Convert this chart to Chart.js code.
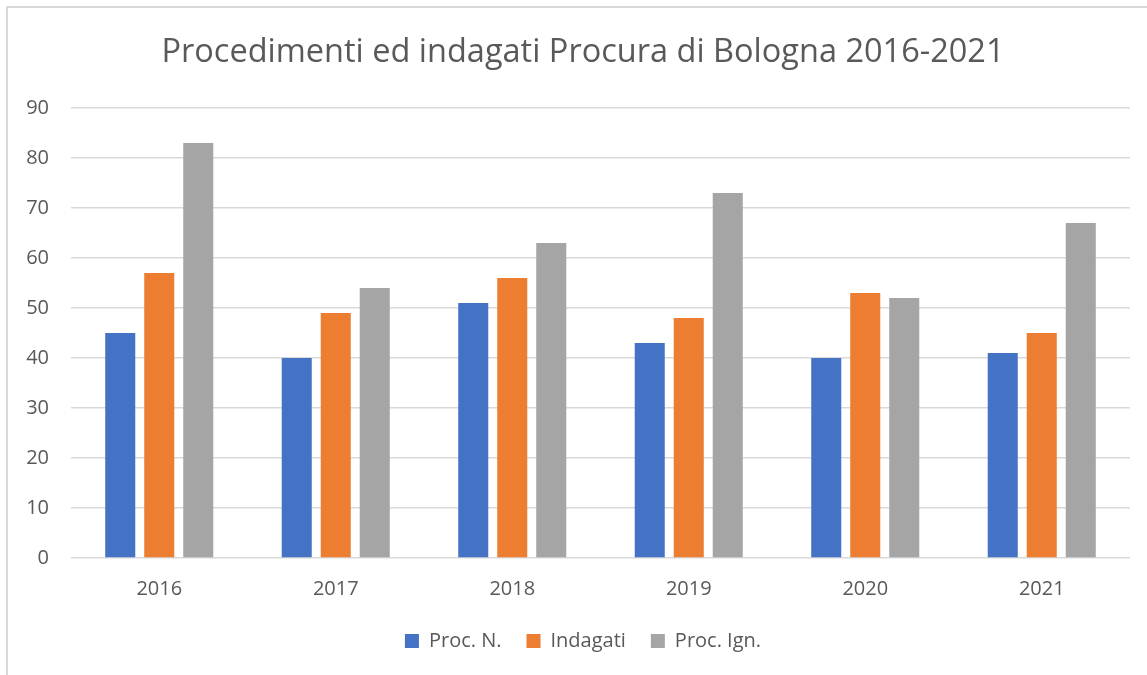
<!DOCTYPE html>
<html>
<head>
<meta charset="utf-8">
<script src="https://cdn.jsdelivr.net/npm/chart.js@4.4.0/dist/chart.umd.min.js"></script>
<style>
  html, body { margin:0; padding:0; background:#fff; overflow:hidden; }
  #frame { position:absolute; left:6px; top:6px; width:1200px; height:700px; border-left:2px solid #D9D9D9; border-top:2px solid #D9D9D9; }
  #wrap { position:absolute; left:0; top:0; width:1166px; height:675px; }
</style>
</head>
<body>
<div id="frame"></div>
<div id="wrap"><canvas id="c" width="1166" height="675"></canvas></div>
<script>
const categories = ['2016', '2017', '2018', '2019', '2020', '2021'];
const procN = [45, 40, 51, 43, 40, 41];
const indagati = [57, 49, 56, 48, 53, 45];
const procIgn = [83, 54, 63, 73, 52, 67];
const yTicks = [0, 10, 20, 30, 40, 50, 60, 70, 80, 90];
const seriesNames = ['Proc. N.', 'Indagati', 'Proc. Ign.'];
const colors = ['#4472C4', '#ED7D31', '#A5A5A5'];

const FONT = "'Open Sans', 'DejaVu Sans', sans-serif";
const TEXT = '#595959';

new Chart(document.getElementById('c'), {
  type: 'bar',
  data: {
    labels: categories,
    datasets: [procN, indagati, procIgn].map((d, i) => ({
      label: seriesNames[i],
      data: d,
      backgroundColor: colors[i],
      borderWidth: 0,
      categoryPercentage: 0.663,
      barPercentage: 0.77
    }))
  },
  options: {
    responsive: false,
    animation: false,
    devicePixelRatio: 1,
    layout: { padding: { left: 0, right: 0, top: 0, bottom: 14 } },
    plugins: {
      title: {
        display: true,
        text: 'Procedimenti ed indagati Procura di Bologna 2016-2021',
        color: TEXT,
        font: { family: FONT, size: 32.5, weight: 'normal' },
        padding: { top: 33, bottom: 36 }
      },
      legend: {
        position: 'bottom',
        labels: {
          color: TEXT,
          font: { family: FONT, size: 20 },
          boxWidth: 14,
          boxHeight: 14,
          padding: 25
        }
      },
      tooltip: { enabled: false }
    },
    scales: {
      x: {
        grid: { display: false },
        border: { display: false },
        afterFit: s => { s.height -= 6; },
        ticks: { color: TEXT, font: { family: FONT, size: 20 }, padding: 11 }
      },
      y: {
        min: 0, max: 90,
        afterBuildTicks: s => { s.ticks = yTicks.map(v => ({ value: v })); },
        afterFit: s => { s.width = 71; },
        grid: { color: '#D9D9D9', lineWidth: 1.5, drawTicks: false },
        border: { display: false },
        ticks: { color: TEXT, font: { family: FONT, size: 20 }, padding: 22 }
      },
      yRight: {
        position: 'right',
        display: true,
        afterFit: s => { s.width = 36; },
        grid: { display: false, drawTicks: false },
        border: { display: false },
        ticks: { display: false }
      }
    }
  }
});
</script>
</body>
</html>
